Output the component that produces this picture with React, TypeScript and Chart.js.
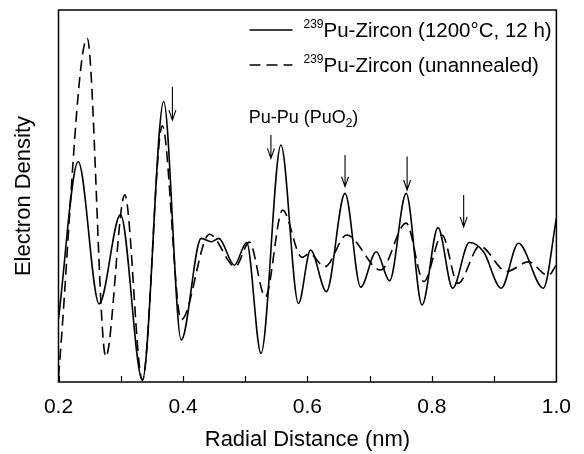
import React, { useEffect, useRef } from 'react';
import { Chart, registerables } from 'chart.js';

Chart.register(...registerables);

// Radial distance (nm) and electron density (arbitrary units)
const annealedX = [0.200, 0.2317, 0.2654, 0.2996, 0.3348, 0.369, 0.3972, 0.4293, 0.4453, 0.4575, 0.4826, 0.5023, 0.5254, 0.5574, 0.5856, 0.605, 0.6304, 0.6604, 0.6855, 0.7105, 0.732, 0.7586, 0.7841, 0.8098, 0.8333, 0.860, 0.883, 0.9113, 0.939, 0.979, 1.0];
const annealedY = [17, 59.2, 21, 45, 0.5, 75.4, 11.3, 38.6, 37.7, 38.6, 31.4, 37.5, 7.7, 63.7, 21.1, 35.5, 24.3, 50.7, 25.5, 35, 27.2, 50.7, 20.7, 41.5, 25.2, 37.5, 35, 25.2, 37.3, 25.2, 44];

const unannealedX = [0.200, 0.2461, 0.276, 0.3065, 0.3348, 0.3668, 0.3972, 0.4426, 0.4842, 0.5066, 0.5323, 0.560, 0.591, 0.603, 0.628, 0.663, 0.7175, 0.7586, 0.7869, 0.8162, 0.8418, 0.877, 0.920, 0.955, 0.987, 1.0];
const unannealedY = [1.5, 92.4, 6.8, 50.3, 0.5, 68.9, 16.7, 39.7, 31, 37.6, 22.9, 46.2, 33.5, 34.5, 31, 39.5, 30.1, 42.7, 27, 39.5, 26.5, 36.5, 29.7, 32.3, 28.6, 31.5];

const xTicks = [0.2, 0.3, 0.4, 0.5, 0.6, 0.7, 0.8, 0.9, 1.0];

const legendSup = ['239', '239'];
const legendText = ['Pu-Zircon (1200°C, 12 h)', 'Pu-Zircon (unannealed)'];

const arrowX = [0.383, 0.5413, 0.6604, 0.7601, 0.851];
const arrowTop = [79.4, 66.4, 61, 60.6, 50.3];
const arrowBottom = [70.4, 60.1, 52.5, 51.6, 41.7];

const peakLabelX = 0.5055;
const peakLabelY = 69.5;
const peakLabelParts = ['Pu-Pu (PuO', '2', ')'];

const FONT = '"Liberation Sans", Arial, Helvetica, sans-serif';
const DASH = [11, 6];

const overlayPlugin = {
  id: 'overlay',
  afterDatasetsDraw(chart: any) {
    const { ctx, chartArea, scales } = chart;
    const xs = scales.x;
    const ys = scales.y;
    ctx.save();
    ctx.strokeStyle = '#000';
    ctx.fillStyle = '#000';
    // frame
    ctx.lineWidth = 1.5;
    ctx.strokeRect(chartArea.left, chartArea.top, chartArea.right - chartArea.left, chartArea.bottom - chartArea.top);
    // inner ticks on bottom axis
    ctx.lineWidth = 1.2;
    xTicks.forEach((v) => {
      const px = Math.round(xs.getPixelForValue(v)) + 0.5;
      ctx.beginPath();
      ctx.moveTo(px, chartArea.bottom);
      ctx.lineTo(px, chartArea.bottom - 6);
      ctx.stroke();
    });
    // arrows
    ctx.lineWidth = 1.1;
    arrowX.forEach((v, i) => {
      const px = xs.getPixelForValue(v);
      const y0 = ys.getPixelForValue(arrowTop[i]);
      const y1 = ys.getPixelForValue(arrowBottom[i]);
      ctx.beginPath();
      ctx.moveTo(px, y0);
      ctx.lineTo(px, y1);
      ctx.moveTo(px - 3.5, y1 - 10);
      ctx.lineTo(px, y1);
      ctx.lineTo(px + 3.5, y1 - 10);
      ctx.stroke();
    });
    // peak label
    ctx.textBaseline = 'alphabetic';
    ctx.textAlign = 'left';
    let lx = xs.getPixelForValue(peakLabelX);
    const ly = ys.getPixelForValue(peakLabelY);
    ctx.font = `18px ${FONT}`;
    ctx.fillText(peakLabelParts[0], lx, ly);
    lx += ctx.measureText(peakLabelParts[0]).width;
    ctx.font = `12px ${FONT}`;
    ctx.fillText(peakLabelParts[1], lx, ly + 4);
    lx += ctx.measureText(peakLabelParts[1]).width;
    ctx.font = `18px ${FONT}`;
    ctx.fillText(peakLabelParts[2], lx, ly);
    // legend
    const lineStart = chartArea.left + 191;
    const lineEnd = chartArea.left + 234;
    const textStart = chartArea.left + 245;
    const baselines = [chartArea.top + 27, chartArea.top + 62];
    legendText.forEach((t, i) => {
      const b = baselines[i];
      ctx.lineWidth = 1.5;
      ctx.setLineDash(i === 1 ? DASH : []);
      ctx.beginPath();
      ctx.moveTo(lineStart, b - 7);
      ctx.lineTo(lineEnd, b - 7);
      ctx.stroke();
      ctx.setLineDash([]);
      ctx.font = `12px ${FONT}`;
      ctx.fillText(legendSup[i], textStart, b - 9);
      const w = ctx.measureText(legendSup[i]).width;
      ctx.font = `20.5px ${FONT}`;
      ctx.fillText(t, textStart + w, b);
    });
    ctx.restore();
  },
};

export default function App() {
  const canvasRef = useRef<HTMLCanvasElement | null>(null);

  useEffect(() => {
    document.body.style.margin = '0';
    const canvas = canvasRef.current;
    if (!canvas) return;
    const chart = new Chart(canvas, {
      type: 'line',
      data: {
        datasets: [
          {
            label: '239Pu-Zircon (1200°C, 12 h)',
            data: annealedX.map((x, i) => ({ x, y: annealedY[i] })),
            borderColor: '#000',
            borderWidth: 1.6,
            pointRadius: 0,
            fill: false,
            cubicInterpolationMode: 'monotone',
          },
          {
            label: '239Pu-Zircon (unannealed)',
            data: unannealedX.map((x, i) => ({ x, y: unannealedY[i] })),
            borderColor: '#000',
            borderWidth: 1.6,
            borderDash: DASH,
            pointRadius: 0,
            fill: false,
            cubicInterpolationMode: 'monotone',
          },
        ],
      },
      options: {
        animation: false,
        responsive: false,
        devicePixelRatio: 1,
        layout: { padding: { left: 0, right: 26, top: 10, bottom: 0 } },
        plugins: {
          legend: { display: false },
          tooltip: { enabled: false },
        },
        scales: {
          x: {
            type: 'linear',
            min: 0.2,
            max: 1.0,
            grid: { display: false, drawTicks: false },
            border: { display: false },
            afterBuildTicks: (s: any) => {
              s.ticks = xTicks.map((v) => ({ value: v }));
            },
            ticks: {
              autoSkip: false,
              maxRotation: 0,
              padding: 13,
              color: '#000',
              font: { family: FONT, size: 21 },
              callback: (v: any) => {
                const n = Math.round(Number(v) * 10);
                return n % 2 === 0 ? (n / 10).toFixed(1) : '';
              },
            },
            title: {
              display: true,
              text: 'Radial Distance (nm)',
              color: '#000',
              font: { family: FONT, size: 22 },
              padding: { top: 0, bottom: 1 },
            },
            afterFit: (s: any) => {
              s.height = 72;
            },
          },
          y: {
            type: 'linear',
            min: 0,
            max: 100,
            grid: { display: false, drawTicks: false },
            border: { display: false },
            ticks: { display: false },
            title: {
              display: true,
              text: 'Electron Density',
              color: '#000',
              font: { family: FONT, size: 22 },
              padding: { top: 11, bottom: 0 },
            },
            afterFit: (s: any) => {
              s.width = 58.5;
            },
          },
        },
      },
      plugins: [overlayPlugin],
    });
    return () => chart.destroy();
  }, []);

  return (
    <div style={{ position: 'fixed', left: 0, top: 0, width: 584, height: 454, background: '#fff' }}>
      <canvas ref={canvasRef} width={584} height={454} style={{ width: 584, height: 454 }} />
    </div>
  );
}
